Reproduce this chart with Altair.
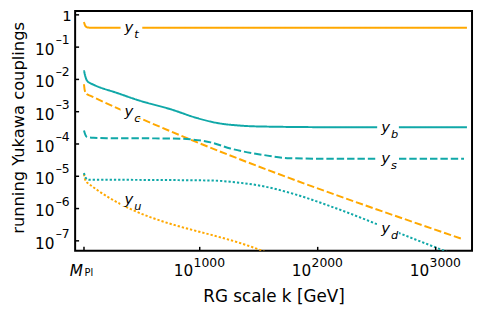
import altair as alt
import pandas as pd

# x: log10(k / GeV), y: log10(Yukawa coupling)
series = ["yt", "yc", "yu", "yb", "ys", "yd"]
yt_x = [19, 30, 50, 80, 3265]
yt_l = [-0.22, -0.34, -0.39, -0.40, -0.40]
yc_x = [19, 25, 40, 75, 3224]
yc_l = [-2.15, -2.33, -2.45, -2.51, -6.94]
yu_x = [19, 27, 47, 1509, 1700]
yu_l = [-4.93, -5.08, -5.20, -7.28, -7.55]
yb_x = [19, 30, 47, 75, 103, 300, 493, 750, 981, 1149, 1341, 1542, 2136, 3265]
yb_l = [-1.72, -1.90, -2.05, -2.12, -2.17, -2.42, -2.66, -2.92, -3.20, -3.35, -3.43, -3.46, -3.48, -3.48]
ys_x = [19, 30, 44, 100, 212, 772, 981, 1093, 1260, 1539, 1762, 2139, 3240]
ys_l = [-3.58, -3.71, -3.78, -3.81, -3.82, -3.83, -3.88, -3.95, -4.14, -4.34, -4.44, -4.46, -4.46]
yd_x = [19, 30, 61, 214, 1093, 1260, 1539, 1818, 2139, 2711, 3046, 3200]
yd_l = [-4.90, -5.03, -5.11, -5.11, -5.13, -5.17, -5.31, -5.57, -5.97, -6.79, -7.27, -7.49]

colors = ["#FFA800", "#FFA800", "#FFA800", "#10A8A8", "#10A8A8", "#10A8A8"]
dashes = [[1, 0], [7.5, 3], [2.3, 2], [1, 0], [7.5, 3], [2.3, 2]]

# line labels
lab_sub = ["t", "c", "u", "b", "s", "d"]
lab_x = [421, 421, 421, 2596, 2596, 2596]
lab_l = [-0.40, -2.99, -5.72, -3.48, -4.46, -6.62]

# tick labels
y_exp = [0, -1, -2, -3, -4, -5, -6, -7]
x_ticks = [1000, 2000, 3000]
x_mpl = 19

rows = []
for s, xs_, ls_ in zip(series, [yt_x, yc_x, yu_x, yb_x, ys_x, yd_x],
                       [yt_l, yc_l, yu_l, yb_l, ys_l, yd_l]):
    for a, b in zip(xs_, ls_):
        rows.append({"s": s, "x": a, "y": 10 ** b})
lines_df = pd.DataFrame(rows)
lab_df = pd.DataFrame({"sub": lab_sub, "x": lab_x, "y": [10 ** v for v in lab_l]})
ytick_df = pd.DataFrame({
    "e": y_exp,
    "v": [10.0 ** e for e in y_exp],
    "base": ["1" if e == 0 else "10" for e in y_exp],
    "sup": ["" if e == 0 else "\u2013" + str(-e) for e in y_exp],
})
xtick_df = pd.DataFrame({"x": x_ticks, "base": ["10"] * 3, "sup": [str(v) for v in x_ticks]})
mpl_df = pd.DataFrame({"x": [x_mpl]})
xt_all = pd.DataFrame({"x": [x_mpl] + x_ticks})

W, H = 402, 243
FONT = "DejaVu Sans"
xsc = alt.Scale(domain=[-56, 3308], nice=False, zero=False)
ysc = alt.Scale(type="log", domain=[10 ** -7.309, 10 ** 0.122], nice=False)

X = alt.X("x:Q", scale=xsc, axis=alt.Axis(
    title="RG scale k  [GeV]", labels=False, ticks=False, domain=False, grid=False,
    titleFont=FONT, titleFontSize=17, titleFontWeight="normal", titleColor="black",
    titlePadding=38))
Y = alt.Y("y:Q", scale=ysc, axis=alt.Axis(
    title="running Yukawa couplings", labels=False, ticks=False, domain=False, grid=False,
    titleFont=FONT, titleFontSize=16.5, titleFontWeight="normal", titleColor="black",
    titlePadding=49, titleY=118))

lines = alt.Chart(lines_df).mark_line(clip=True, strokeWidth=2, interpolate="monotone").encode(
    x=X, y=Y,
    color=alt.Color("s:N", scale=alt.Scale(domain=series, range=colors), legend=None),
    strokeDash=alt.StrokeDash("s:N", scale=alt.Scale(domain=series, range=dashes), legend=None),
    detail="s:N",
)

boxes = alt.Chart(lab_df).mark_point(
    shape="M-1,-0.6H1V0.6H-1Z", filled=True, color="white", opacity=1, size=484, strokeWidth=0
).encode(x=alt.X("x:Q", scale=xsc), y=alt.Y("y:Q", scale=ysc))

ylab = alt.Chart(lab_df).mark_text(
    text="y", font=FONT, fontStyle="italic", fontSize=15, align="center",
    baseline="alphabetic", dx=-2.5, dy=4.5, color="black"
).encode(x=alt.X("x:Q", scale=xsc), y=alt.Y("y:Q", scale=ysc))

sublab = alt.Chart(lab_df).mark_text(
    font=FONT, fontStyle="italic", fontSize=11.5, align="left",
    baseline="alphabetic", dx=3, dy=10.5, color="black"
).encode(x=alt.X("x:Q", scale=xsc), y=alt.Y("y:Q", scale=ysc), text="sub:N")

# y tick labels
ybase = alt.Chart(ytick_df).transform_filter("datum.e != 0").mark_text(
    font=FONT, fontSize=15.5, align="right", baseline="alphabetic", dy=8, color="black"
).encode(y=alt.Y("v:Q", scale=ysc), x=alt.value(-21), text="base:N")
yone = alt.Chart(ytick_df).transform_filter("datum.e == 0").mark_text(
    font=FONT, fontSize=15, align="right", baseline="alphabetic", dy=6.5, color="black"
).encode(y=alt.Y("v:Q", scale=ysc), x=alt.value(-3.5), text="base:N")
ysup = alt.Chart(ytick_df).transform_filter("datum.e != 0").mark_text(
    font=FONT, fontSize=12.5, align="right", baseline="alphabetic", dy=-3, color="black"
).encode(y=alt.Y("v:Q", scale=ysc), x=alt.value(-5.5), text="sup:N")

# x tick labels
xbase = alt.Chart(xtick_df).mark_text(
    font=FONT, fontSize=15.5, align="right", baseline="alphabetic", dx=-6.5, color="black"
).encode(x=alt.X("x:Q", scale=xsc), y=alt.value(H + 25), text="base:N")
xsup = alt.Chart(xtick_df).mark_text(
    font=FONT, fontSize=12.5, align="left", baseline="alphabetic", dx=-6.2, color="black"
).encode(x=alt.X("x:Q", scale=xsc), y=alt.value(H + 16.5), text="sup:N")
mlab = alt.Chart(mpl_df).mark_text(
    text="M", font=FONT, fontStyle="italic", fontSize=15.5, align="right",
    baseline="alphabetic", dx=-1, color="black"
).encode(x=alt.X("x:Q", scale=xsc), y=alt.value(H + 25))
pllab = alt.Chart(mpl_df).mark_text(
    text="Pl", font=FONT, fontSize=10, align="left", baseline="alphabetic", dx=0.5, color="black"
).encode(x=alt.X("x:Q", scale=xsc), y=alt.value(H + 25.5))

# inward ticks
xticks = alt.Chart(xt_all).mark_rule(color="black", strokeWidth=1.5).encode(
    x=alt.X("x:Q", scale=xsc), y=alt.value(H), y2=alt.value(H - 4))
yticks = alt.Chart(ytick_df).mark_rule(color="black", strokeWidth=1.5).encode(
    y=alt.Y("v:Q", scale=ysc), x=alt.value(0), x2=alt.value(4))

chart = alt.layer(
    lines, boxes, ylab, sublab, ybase, yone, ysup, xbase, xsup, mlab, pllab, xticks, yticks
).properties(
    width=W, height=H,
    autosize=alt.AutoSizeParams(type="none"),
    padding={"left": 68, "top": 1, "right": 2, "bottom": 58},
    background="white",
).configure_view(stroke="black", strokeWidth=2)

chart.save("out.html", embed_options={"renderer": "svg", "actions": False})
